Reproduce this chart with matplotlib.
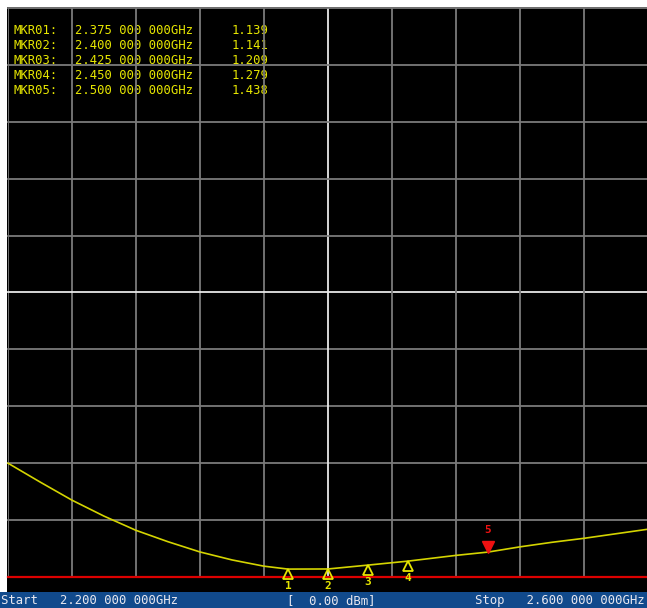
import matplotlib
matplotlib.use("Agg")
import matplotlib.pyplot as plt
from matplotlib.patches import Rectangle
from matplotlib.transforms import offset_copy

# trace (frequency GHz, VSWR)
freq = [2.20, 2.22, 2.24, 2.26, 2.28, 2.30, 2.32, 2.34, 2.36, 2.375, 2.40,
        2.425, 2.45, 2.48, 2.50, 2.52, 2.54, 2.56, 2.58, 2.60]
vswr = [3.00, 2.67, 2.35, 2.07, 1.82, 1.62, 1.44, 1.30, 1.19, 1.139, 1.141,
        1.209, 1.279, 1.38, 1.438, 1.53, 1.61, 1.68, 1.76, 1.84]

mkr_names = ["MKR01:", "MKR02:", "MKR03:", "MKR04:", "MKR05:"]
mkr_freq = [2.375, 2.400, 2.425, 2.450, 2.500]
mkr_freq_text = ["2.375 000 000GHz", "2.400 000 000GHz", "2.425 000 000GHz",
                 "2.450 000 000GHz", "2.500 000 000GHz"]
mkr_vswr = [1.139, 1.141, 1.209, 1.279, 1.438]

start_text = "Start   2.200 000 000GHz"
ref_text = "[  0.00 dBm]"
stop_text = "Stop   2.600 000 000GHz"

W, H = 647, 608
YELLOW = "#e6e600"
TRACE = "#d4d400"
GRID = "#7a7a7a"
MONO = "DejaVu Sans Mono"

fig = plt.figure(figsize=(W / 100, H / 100), dpi=100)
fig.patch.set_facecolor("white")

# background in pixel coordinates
bg = fig.add_axes([0, 0, 1, 1])
bg.set_xlim(0, W)
bg.set_ylim(H, 0)
bg.axis("off")
bg.add_patch(Rectangle((7, 7), W - 7, 592 - 7, facecolor="black", edgecolor="none"))
bg.add_patch(Rectangle((0, 592), W, H - 592, facecolor="#114a8c", edgecolor="none"))

# plotting area: 10 x 10 divisions
x0, y0, x1, y1 = 8, 8, 648, 577
ax = fig.add_axes([x0 / W, (H - y1) / H, (x1 - x0) / W, (y1 - y0) / H])
ax.set_facecolor("none")
ax.set_xlim(2.2, 2.6)
ax.set_ylim(1, 11)
ax.set_xticks([])
ax.set_yticks([])
for s in ax.spines.values():
    s.set_visible(False)

for i in range(0, 11):
    xv = 2.2 + i * 0.04
    yv = 1 + i
    c = "#e8e8e8" if i == 5 else GRID
    ax.axvline(xv, color=c, lw=1.3, zorder=1)
    if i == 0:
        ax.axhline(yv, color="#dd0000", lw=1.6, zorder=3, clip_on=False)
    else:
        ax.axhline(yv, color=c, lw=1.3, zorder=1, clip_on=False)

ax.plot(freq, vswr, color=TRACE, lw=1.2, zorder=4, clip_on=False)

# markers 1-4: open triangles below the trace, marker 5: red filled above
tri_up = offset_copy(ax.transData, fig=fig, y=-5, units="dots")
tri_dn = offset_copy(ax.transData, fig=fig, y=5, units="dots")
lab_dn = offset_copy(ax.transData, fig=fig, y=-17, units="dots")
lab_up = offset_copy(ax.transData, fig=fig, y=22, units="dots")
for i in range(4):
    ax.plot(mkr_freq[i], mkr_vswr[i], marker="^", ms=7.5, mfc="none",
            mec=YELLOW, mew=1.3, transform=tri_up, zorder=5, clip_on=False)
    ax.text(mkr_freq[i], mkr_vswr[i], str(i + 1), transform=lab_dn, color=YELLOW,
            ha="center", va="center", fontsize=8, fontweight="bold",
            family=MONO, zorder=5)
ax.plot(mkr_freq[4], mkr_vswr[4], marker="v", ms=8, color="#ee1111",
        transform=tri_dn, zorder=5, clip_on=False)
ax.text(mkr_freq[4], mkr_vswr[4], "5", transform=lab_up, color="#ee1111",
        ha="center", va="center", fontsize=8, fontweight="bold",
        family=MONO, zorder=5)

# marker table, top left
for i in range(5):
    yy = 30 + i * 15.2
    bg.text(14, yy, mkr_names[i], color=YELLOW, fontsize=8.8, family=MONO,
            va="center", ha="left", zorder=6)
    bg.text(75, yy, mkr_freq_text[i], color=YELLOW, fontsize=8.8, family=MONO,
            va="center", ha="left", zorder=6)
    bg.text(268, yy, f"{mkr_vswr[i]:.3f}", color=YELLOW, fontsize=8.8,
            family=MONO, va="center", ha="right", zorder=6)

# status bar
bg.text(1, 600.5, start_text, color="#e8e8f0", fontsize=8.8, family=MONO,
        va="center", ha="left")
bg.text(287, 600.5, ref_text, color="#e8e8f0", fontsize=8.8, family=MONO,
        va="center", ha="left")
bg.text(645, 600.5, stop_text, color="#e8e8f0", fontsize=8.8, family=MONO,
        va="center", ha="right")

fig.savefig("out.png", dpi=100, facecolor="white")
